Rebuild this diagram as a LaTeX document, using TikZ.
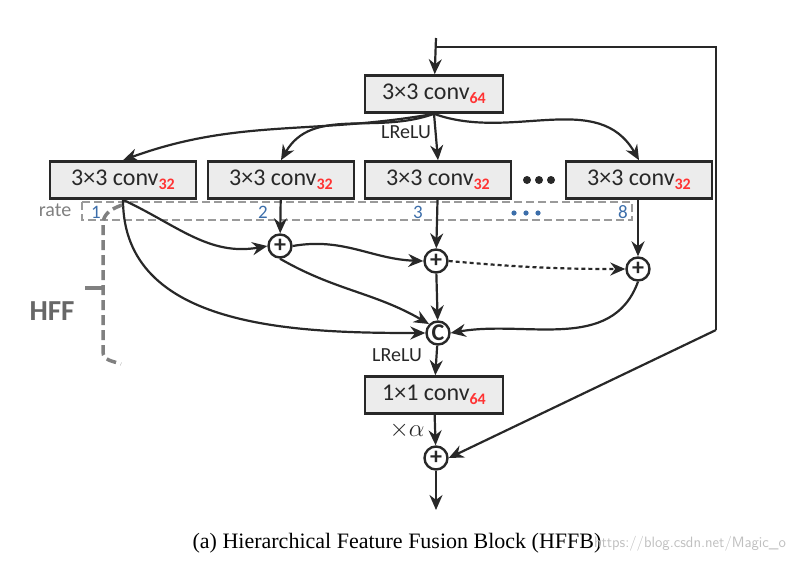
\documentclass[tikz,border=0pt]{standalone}
\usepackage{fontspec}
\setmainfont{Liberation Serif}
\newfontfamily\calib{Carlito}
\usetikzlibrary{arrows.meta}
\definecolor{boxgray}{RGB}{236,236,236}
\definecolor{ink}{RGB}{40,40,40}
\definecolor{hffgray}{RGB}{128,128,128}
\definecolor{ratenum}{RGB}{60,110,170}
\begin{document}
\begin{tikzpicture}[x=1pt, y=-1pt, line width=2.2pt, draw=ink,
	every node/.style={font=\calib},
	conv/.style={draw=ink, line width=2.6pt, fill=boxgray, minimum width=146pt, minimum height=37pt, font=\calib\fontsize{24}{24}\selectfont, text=ink},
	op/.style={circle, draw=ink, line width=2.4pt, fill=white, inner sep=0pt, minimum size=23pt, font=\calib\bfseries\fontsize{24}{24}\selectfont, text=ink},
	arr/.style={-{Stealth[length=15pt, width=13pt]}, ink}]
	\useasboundingbox (0,0) rectangle (794,566);
	\def\sub#1{\raisebox{-4pt}{\textcolor{red!80}{\bfseries\fontsize{16}{16}\selectfont#1}}}
	% blocks
	\node[conv, minimum width=138pt] (c0) at (434,94) {3×3 conv\sub{64}};
	\node[conv] (b1) at (123,180) {3×3 conv\sub{32}};
	\node[conv] (b2) at (281,180) {3×3 conv\sub{32}};
	\node[conv] (b3) at (438,180) {3×3 conv\sub{32}};
	\node[conv] (b4) at (639,180) {3×3 conv\sub{32}};
	\foreach \x in {527,539,551}
		\fill[ink] (\x,180) circle (4pt);
	\node[op] (p2) at (280,246) {+};
	\node[op] (p3) at (436,261) {+};
	\node[op] (p8) at (638,269) {+};
	\node[op] (cc) at (438,333) {C};
	\node[conv, minimum width=138pt] (c1) at (434,395) {1×1 conv\sub{64}};
	\node[op] (pf) at (436,458) {+};
	\coordinate (in) at (436,38);
	\coordinate (out) at (436,510);
	\coordinate (sk) at (436,47);
	\coordinate (skc) at (716,330);
	% rate box
	\draw[hffgray!80, line width=1.1pt, dash pattern=on 8pt off 4pt] (82,202) rectangle (632,220);
	\node[text=hffgray, font=\calib\fontsize{20}{20}\selectfont] at (55,210) {rate};
	\foreach \x/\l in {96/1, 263/2, 418/3, 623/8}
		\node[text=ratenum, font=\calib\fontsize{19}{19}\selectfont] at (\x,212) {\l};
	\foreach \x in {514,526,538}
		\fill[ratenum] (\x,213) circle (2.6pt);
	% connectors
	\draw[arr] (in) -- (c0);
	\draw (sk) -- (716,47) -- (skc);
	\draw[arr] (skc) -- (pf.east);
	\draw[arr] (c0.south) to[out=190, in=20] (b1.north);
	\draw[arr] (c0.south) to[out=200, in=60] (b2.north);
	\draw[arr] (c0.south) -- (b3.north);
	\draw[arr] (c0.south) to[out=-20, in=120] (b4.north);
	\node[text=ink, font=\calib\fontsize{20}{20}\selectfont] at (406,132) {LReLU};
	\draw[arr] (b2) -- (p2);
	\draw[arr] (b3) -- (p3);
	\draw[arr] (b4.south -| p8) -- (p8);
	\draw[arr] (b1.south) to[out=-25, in=190] (p2.west);
	\draw[arr] (b1.south) to[out=-90, in=180] (cc.west);
	\draw[arr] (p2.south) to[out=-30, in=150] (cc.north west);
	\draw[arr] (p2.east) to[out=10, in=178] (p3.west);
	\draw[arr] (p3) -- (cc);
	\draw[arr, dash pattern=on 4pt off 3pt] (p3.east) to[out=-5, in=180] (p8.west);
	\draw[arr] (p8.south) to[out=-110, in=10] (cc.east);
	\draw[arr] (cc) -- (c1);
	\node[text=ink, font=\calib\fontsize{20}{20}\selectfont] at (397,355) {LReLU};
	\draw[arr] (c1) -- (pf);
	\node[text=ink, font=\fontsize{24}{24}\selectfont] at (407,430) {$\times\alpha$};
	\draw[arr] (pf) -- (out);
	% HFF bracket
	\draw[hffgray, line width=3.5pt, dash pattern=on 10pt off 5pt] (122,205) to[out=200, in=90] (103,224) -- (103,352) to[out=-90, in=160] (121,364);
	\draw[hffgray, line width=3.5pt] (85,288) -- (103,288);
	\node[text=hffgray!80!black, font=\calib\bfseries\fontsize{29}{29}\selectfont] at (52,311) {HFF};
	% caption
	\node[font=\fontsize{22}{24}\selectfont] at (397,543) {(a) Hierarchical Feature Fusion Block (HFFB)};
	\node[text=black!25, font=\fontsize{15}{15}\selectfont\sffamily] at (690,544) {https://blog.csdn.net/Magic\_o};
\end{tikzpicture}
\end{document}
